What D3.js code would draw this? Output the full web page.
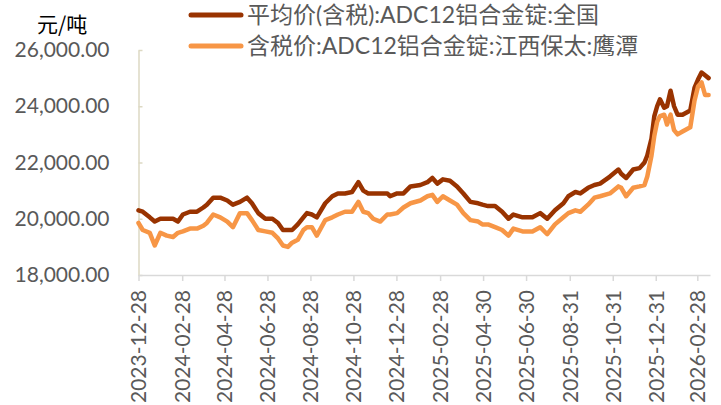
<!DOCTYPE html>
<html>
<head>
<meta charset="utf-8">
<script src="https://cdn.jsdelivr.net/npm/d3@7"></script>
<style>
  body { margin: 0; background: #fff; }
  svg { display: block; }
  .tick text { font-family: Lato, "Noto Sans CJK SC", sans-serif; fill: #595959; }
</style>
</head>
<body>
<div id="chart"></div>
<script>
// 日期 (交易日, 抽样)
const dates = [
  "2023-12-28","2024-01-03","2024-01-13","2024-01-20","2024-01-28","2024-02-06","2024-02-15","2024-02-22","2024-02-29","2024-03-10",
  "2024-03-20","2024-03-29","2024-04-03","2024-04-12","2024-04-22","2024-05-02","2024-05-10","2024-05-20","2024-05-30","2024-06-06",
  "2024-06-15","2024-06-25","2024-07-05","2024-07-13","2024-07-20","2024-07-27","2024-08-02","2024-08-10","2024-08-18","2024-08-23",
  "2024-08-30","2024-09-06","2024-09-18","2024-09-28","2024-10-06","2024-10-16","2024-10-26","2024-11-04","2024-11-11","2024-11-18",
  "2024-11-25","2024-12-05","2024-12-15","2024-12-19","2024-12-29","2025-01-07","2025-01-17","2025-01-31","2025-02-10","2025-02-17",
  "2025-02-24","2025-03-04","2025-03-14","2025-03-24","2025-04-02","2025-04-12","2025-04-23","2025-04-29","2025-05-07","2025-05-17",
  "2025-05-27","2025-06-05","2025-06-12","2025-06-25","2025-07-09","2025-07-20","2025-07-30","2025-08-10","2025-08-22","2025-08-29",
  "2025-09-08","2025-09-15","2025-09-26","2025-10-05","2025-10-13","2025-10-27","2025-11-08","2025-11-12","2025-11-19","2025-11-29",
  "2025-12-08","2025-12-15","2025-12-19","2025-12-25","2025-12-29","2026-01-02","2026-01-06","2026-01-12","2026-01-16","2026-01-21",
  "2026-01-26","2026-01-31","2026-02-07","2026-02-18","2026-02-24","2026-03-01","2026-03-06","2026-03-11","2026-03-16"
];

// 平均价(含税):ADC12铝合金锭:全国
const national = [
  20300,20250,20050,19900,20000,20000,20000,19900,20150,20250,
  20250,20400,20500,20750,20750,20650,20500,20600,20750,20550,
  20200,20000,20000,19850,19600,19600,19600,19800,20050,20200,
  20150,20050,20550,20800,20900,20900,20950,21300,21000,20900,
  20900,20900,20900,20800,20900,20900,21150,21200,21300,21450,
  21250,21400,21350,21150,20900,20600,20550,20500,20450,20450,
  20250,20000,20150,20050,20050,20200,20000,20300,20550,20800,
  20950,20900,21100,21200,21250,21500,21750,21600,21450,21750,
  21800,22000,22250,22850,23650,24000,24250,23950,24000,24550,
  24000,23700,23700,23850,24650,24950,25200,25100,25000
];

// 含税价:ADC12铝合金锭:江西保太:鹰潭
const yingtan = [
  19850,19600,19500,19050,19500,19400,19350,19500,19550,19650,
  19650,19750,19850,20150,20050,19900,19700,20200,20200,19950,
  19600,19550,19500,19300,19050,19000,19150,19250,19600,19700,
  19700,19400,19950,20050,20150,20250,20250,20600,20250,20200,
  20000,19900,20150,20150,20200,20400,20550,20650,20800,20850,
  20600,20800,20650,20500,20200,19950,19900,19800,19800,19700,
  19600,19400,19650,19550,19550,19700,19450,19800,20050,20200,
  20300,20250,20500,20750,20800,20900,21150,21100,20800,21100,
  21150,21200,21500,22250,22950,23450,23650,23700,23350,23700,
  23150,23000,23100,23250,24200,24700,24850,24400,24400
];

const seriesNames = ["平均价(含税):ADC12铝合金锭:全国", "含税价:ADC12铝合金锭:江西保太:鹰潭"];
const seriesColors = ["#993300", "#F79646"];
const tickDates = [
  "2023-12-28","2024-02-28","2024-04-28","2024-06-28","2024-08-28","2024-10-28","2024-12-28",
  "2025-02-28","2025-04-30","2025-06-30","2025-08-31","2025-10-31","2025-12-31","2026-02-28"
];
const yTicks = [18000, 20000, 22000, 24000, 26000];
const unitLabel = "元/吨";

const W = 721, H = 405;
const margin = { top: 50, right: 11, bottom: 130, left: 138.5 };
const width = W - margin.left - margin.right;
const height = H - margin.top - margin.bottom;

const parse = d3.timeParse("%Y-%m-%d");

const svg = d3.select("#chart").append("svg")
  .attr("width", W)
  .attr("height", H);

const g = svg.append("g")
  .attr("transform", `translate(${margin.left},${margin.top})`);

const x = d3.scaleTime()
  .domain([parse("2023-12-28"), parse("2026-03-18")])
  .range([0, width]);

const y = d3.scaleLinear()
  .domain([18000, 26000])
  .range([height, 0]);

// y axis
const yAxis = g.append("g")
  .call(d3.axisLeft(y)
    .tickValues(yTicks)
    .tickFormat(d3.format(",.2f"))
    .tickSizeInner(-4)
    .tickSizeOuter(0)
    .tickPadding(29));
yAxis.select(".domain").attr("stroke", "#DDD9C3").attr("stroke-width", 1.5);
yAxis.selectAll(".tick line").attr("stroke", "#DDD9C3").attr("stroke-width", 1.5);
yAxis.selectAll(".tick text").style("font-size", "21px");

// x axis
const xAxis = g.append("g")
  .attr("transform", `translate(0,${height})`)
  .call(d3.axisBottom(x)
    .tickValues(tickDates.map(parse))
    .tickFormat(d3.timeFormat("%Y-%m-%d"))
    .tickSizeInner(6)
    .tickSizeOuter(0));
xAxis.select(".domain").attr("stroke", "#D9D9D9").attr("stroke-width", 1.5);
xAxis.selectAll(".tick line").attr("stroke", "#D9D9D9").attr("stroke-width", 1.5);
xAxis.selectAll(".tick text")
  .style("font-size", "21px")
  .attr("text-anchor", "end")
  .attr("transform", "rotate(-90)")
  .attr("x", -15)
  .attr("y", 0)
  .attr("dy", "0.35em");

// lines
const line = d3.line()
  .x((d, i) => x(parse(dates[i])))
  .y(d => y(d));

[national, yingtan].forEach((vals, k) => {
  g.append("path")
    .datum(vals)
    .attr("fill", "none")
    .attr("stroke", seriesColors[k])
    .attr("stroke-width", 4.5)
    .attr("stroke-linejoin", "round")
    .attr("stroke-linecap", "round")
    .attr("d", line);
});

// unit label
svg.append("text")
  .attr("x", 37)
  .attr("y", 32)
  .style("font-family", "'Noto Sans CJK SC', sans-serif")
  .style("font-size", "21px")
  .attr("fill", "#000")
  .text(unitLabel);

// legend
const legend = svg.append("g");
seriesNames.forEach((name, k) => {
  const ly = 15 + k * 31;
  legend.append("line")
    .attr("x1", 191).attr("x2", 241)
    .attr("y1", ly).attr("y2", ly)
    .attr("stroke", seriesColors[k])
    .attr("stroke-width", 5)
    .attr("stroke-linecap", "round");
  legend.append("text")
    .attr("x", 247)
    .attr("y", ly)
    .attr("dy", "0.35em")
    .style("font-family", "Lato, 'Noto Sans CJK SC', sans-serif")
    .style("font-size", "23px")
    .attr("fill", "#595959")
    .text(name);
});
</script>
</body>
</html>
